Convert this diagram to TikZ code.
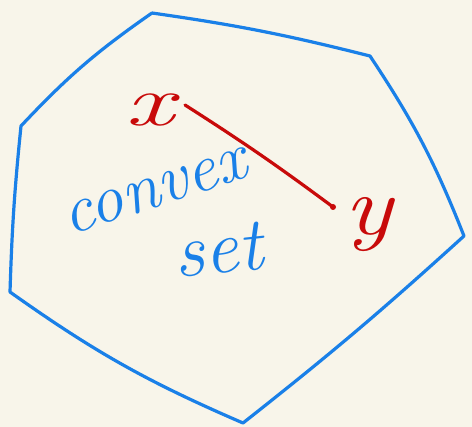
\documentclass[tikz,border=0pt]{standalone}
\usepackage{fontspec}
\definecolor{bg}{HTML}{F8F5EA}
\definecolor{pen}{HTML}{1A80E8}
\definecolor{ink}{HTML}{C80A0A}
\begin{document}
\begin{tikzpicture}[x=1pt,y=-1pt,
  edge/.style={draw=pen,line width=3.2pt,line cap=round,line join=round},
  seg/.style={draw=ink,line width=3.2pt,line cap=round},
  lbl/.style={inner sep=0pt,font=\itshape}]
\fill[bg] (0,0) rectangle (472,427);
\useasboundingbox (0,0) rectangle (472,427);
\coordinate (A) at (152,13);
\coordinate (B) at (370,56);
\coordinate (C) at (464,236);
\coordinate (D) at (243,423);
\coordinate (E) at (10,292);
\coordinate (F) at (21,126);
\draw[edge] (A) to[bend left=3] (B) to[bend left=6] (C) to[bend left=2] (D)
  to[bend left=6] (E) to[bend left=2] (F) to[bend left=6] (A);
\coordinate (P) at (185,105);
\coordinate (Q) at (333,207);
\draw[seg] (P) to[bend left=2] (Q);
\fill[ink] (Q) circle (3pt);
\node[lbl,text=ink,xscale=1.5,font=\itshape\fontsize{72}{72}\selectfont] (x) at (150,110) {x};
\node[lbl,text=ink,xscale=1.2,font=\itshape\fontsize{84}{84}\selectfont] (y) at (368,225) {y};
\node[lbl,text=pen,rotate=18,font=\itshape\fontsize{68}{68}\selectfont] (cv) at (156,192) {convex};
\node[lbl,text=pen,rotate=6,font=\itshape\fontsize{76}{76}\selectfont] (st) at (218,250) {set};
\end{tikzpicture}
\end{document}
